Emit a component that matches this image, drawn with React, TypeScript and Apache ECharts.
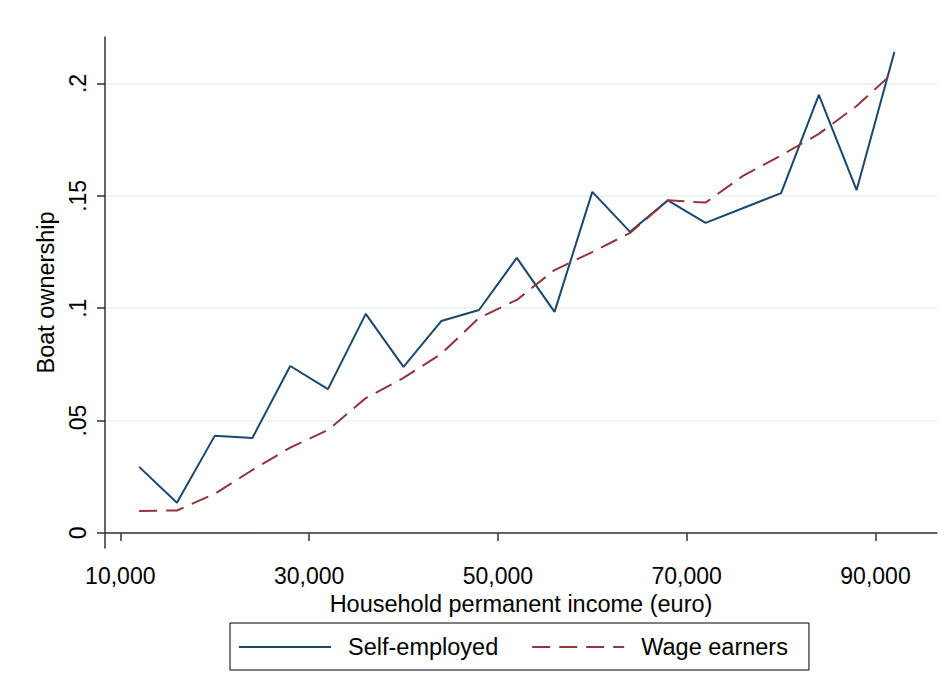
import React, { useEffect, useRef } from "react";
import * as echarts from "echarts";

const incomes = [12000, 16000, 20000, 24000, 28000, 32000, 36000, 40000, 44000, 48000, 52000, 56000, 60000, 64000, 68000, 72000, 76000, 80000, 84000, 88000, 92000];
const selfEmployed = [0.0294, 0.0134, 0.0432, 0.0423, 0.0743, 0.064, 0.0975, 0.0739, 0.0943, 0.0992, 0.1224, 0.0984, 0.1518, 0.134, 0.148, 0.138, 0.1446, 0.1512, 0.1949, 0.1526, 0.214];
const wageEarners = [0.0098, 0.0100, 0.0174, 0.028, 0.038, 0.0458, 0.060, 0.069, 0.0797, 0.0957, 0.1037, 0.117, 0.125, 0.1335, 0.148, 0.147, 0.159, 0.168, 0.1776, 0.190, 0.2053];
const xTicks = [10000, 30000, 50000, 70000, 90000];
const yTicks = [0, 0.05, 0.1, 0.15, 0.2];
const seriesNames = ["Self-employed", "Wage earners"];

const FONT = "Arial, 'Liberation Sans', sans-serif";
const AXIS = "#333333";

export default function App() {
  const ref = useRef<HTMLDivElement>(null);
  useEffect(() => {
    const chart = echarts.init(ref.current!, undefined, { renderer: "svg" });
    chart.setOption({
      animation: false,
      backgroundColor: "#ffffff",
      textStyle: { fontFamily: FONT },
      grid: { left: 105, right: 10, top: 37, bottom: 145, containLabel: false },
      legend: {
        left: 230,
        top: 623,
        padding: [12, 21, 11, 8],
        borderColor: "#000",
        borderWidth: 1,
        borderRadius: 0,
        itemWidth: 92,
        itemHeight: 14,
        itemGap: 33,
        itemStyle: { opacity: 0 },
        textStyle: { fontSize: 23.5, color: "#000", fontFamily: FONT, padding: [0, 0, 0, 12] },
        data: seriesNames,
      },
      xAxis: {
        type: "value",
        min: 8380,
        max: 96515,
        name: "Household permanent income (euro)",
        nameLocation: "middle",
        nameGap: 42,
        nameTextStyle: { fontSize: 23.5, color: "#000", fontFamily: FONT },
        axisLine: { show: true, lineStyle: { color: AXIS, width: 1.5 } },
        axisTick: { show: true, length: 8, lineStyle: { color: AXIS, width: 1.5 }, customValues: xTicks },
        axisLabel: {
          customValues: xTicks,
          fontSize: 23,
          color: "#000",
          margin: 16,
          fontFamily: FONT,
          formatter: (v: number) => v.toLocaleString("en-US"),
        },
        splitLine: { show: false },
      },
      yAxis: {
        type: "value",
        min: -0.0067,
        max: 0.2207,
        name: "Boat ownership",
        nameLocation: "middle",
        nameGap: 43,
        nameRotate: 90,
        nameTextStyle: { fontSize: 23.5, color: "#000", fontFamily: FONT },
        axisLine: { show: true, lineStyle: { color: AXIS, width: 1.5 } },
        axisTick: { show: true, length: 8, lineStyle: { color: AXIS, width: 1.5 }, customValues: yTicks },
        axisLabel: {
          customValues: yTicks,
          rotate: 90,
          fontSize: 23,
          color: "#000",
          margin: 16,
          fontFamily: FONT,
          formatter: (v: number) => (v === 0 ? "0" : String(Math.round(v * 100) / 100).replace(/^0\./, ".")),
        },
        splitLine: { show: true, lineStyle: { color: "#e8f0f2", width: 1.5 } },
      },
      series: [
        {
          name: seriesNames[0],
          type: "line",
          data: incomes.map((x, i) => [x, selfEmployed[i]]),
          symbol: "none",
          lineStyle: { color: "#1a476f", width: 2 },
          itemStyle: { color: "#1a476f" },
        },
        {
          name: seriesNames[1],
          type: "line",
          data: incomes.map((x, i) => [x, wageEarners[i]]),
          symbol: "none",
          lineStyle: { color: "#90353b", width: 2, type: [18, 9] },
          itemStyle: { color: "#90353b" },
        },
      ],
    });
    return () => chart.dispose();
  }, []);
  return (
    <div
      ref={ref}
      style={{ position: "fixed", left: 0, top: 0, width: 947, height: 693, background: "#fff" }}
    />
  );
}
